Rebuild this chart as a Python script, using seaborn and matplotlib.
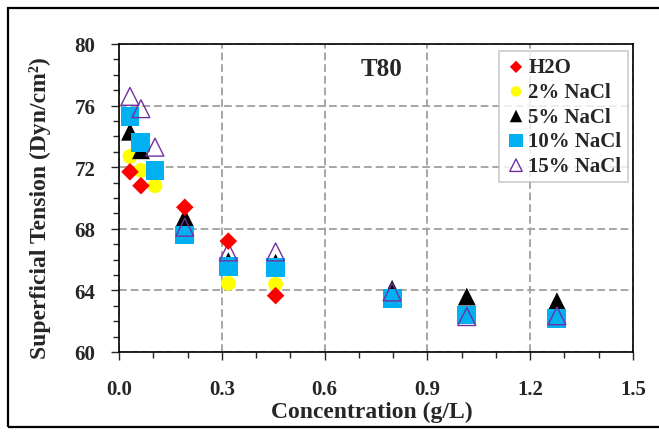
import matplotlib
matplotlib.use("Agg")
import matplotlib.pyplot as plt
import seaborn as sns
import pandas as pd
from matplotlib.patches import Rectangle
from matplotlib.ticker import MultipleLocator

# ---- data ----
x_h2o = [0.032, 0.064, 0.192, 0.319, 0.457]
y_h2o = [71.7, 70.8, 69.4, 67.2, 63.66]

x_2 = [0.032, 0.064, 0.105, 0.192, 0.319, 0.457]
y_2 = [72.7, 71.8, 70.8, 67.8, 64.46, 64.4]

x_5 = [0.032, 0.064, 0.192, 0.319, 0.457, 0.797, 1.015, 1.278]
y_5 = [74.3, 73.1, 68.75, 65.9, 65.8, 64.1, 63.6, 63.3]

x_10 = [0.032, 0.064, 0.105, 0.192, 0.319, 0.457, 0.797, 1.015, 1.278]
y_10 = [75.3, 73.6, 71.8, 67.6, 65.55, 65.5, 63.5, 62.4, 62.2]

x_15 = [0.032, 0.064, 0.105, 0.192, 0.319, 0.457, 0.797, 1.015, 1.278]
y_15 = [76.6, 75.8, 73.3, 68.1, 66.5, 66.5, 63.9, 62.3, 62.35]

labels = ["H2O", "2% NaCl", "5% NaCl", "10% NaCl", "15% NaCl"]
x_ticks = [0.0, 0.3, 0.6, 0.9, 1.2, 1.5]
y_ticks = [60, 64, 68, 72, 76, 80]

sns.set_theme(style="white")
plt.rcParams['font.family'] = ['Liberation Serif', 'DejaVu Serif']
plt.rcParams['font.weight'] = 'bold'

fig = plt.figure(figsize=(6.59, 4.39), dpi=100)
ax = fig.add_axes([119/659, 1-353/439, 514/659, 308/439])

series = [
    (x_2, y_2, labels[1], dict(marker='o', s=115, color='#FFFF00', edgecolor='none'), 3),
    (x_5, y_5, labels[2], dict(marker='^', s=165, color='black', edgecolor='none'), 4),
    (x_10, y_10, labels[3], dict(marker='s', s=185, color='#00B0F0', edgecolor='none'), 5),
    (x_15, y_15, labels[4], dict(marker='^', s=165, facecolor='none', edgecolor='#7030A0', linewidth=1.0), 6),
    (x_h2o, y_h2o, labels[0], dict(marker='D', s=80, color='#FF0000', edgecolor='none'), 7),
]
for xs, ys, lab, kw, z in series:
    df = pd.DataFrame({"x": xs, "y": ys})
    sns.scatterplot(data=df, x="x", y="y", ax=ax, label=lab, zorder=z, **kw)

ax.set_xlim(0, 1.5)
ax.set_ylim(60, 80)
ax.set_xticks(x_ticks)
ax.set_yticks(y_ticks)
ax.set_xticklabels([f"{t:.1f}" for t in x_ticks])
ax.set_yticklabels([str(t) for t in y_ticks])
ax.xaxis.set_minor_locator(MultipleLocator(0.1))
ax.yaxis.set_minor_locator(MultipleLocator(1))
ax.tick_params(axis='both', which='major', direction='out', length=6, width=1.0,
               labelsize=15, bottom=True, left=True)
ax.tick_params(axis='x', which='major', pad=13.5)
ax.tick_params(axis='y', which='major', pad=11)
ax.tick_params(axis='both', which='minor', direction='out', length=4, width=1.0,
               bottom=True, left=True)
for lab in ax.get_xticklabels() + ax.get_yticklabels():
    lab.set_fontweight('bold')

ax.grid(True, which='major', color='#A6A6A6', linestyle=(0, (4, 2)), linewidth=1.4)
ax.set_axisbelow(True)
for sp in ax.spines.values():
    sp.set_visible(True)
    sp.set_color('black')
    sp.set_linewidth(1.2)

ax.set_xlabel("Concentration (g/L)", fontsize=17, fontweight='bold')
ax.set_ylabel("Superficial Tension (Dyn/cm²)", fontsize=17, fontweight='bold')
ax.xaxis.set_label_coords(0.491, -0.159)
ax.yaxis.set_label_coords(-0.132, 0.471)

ax.text(0.511, 0.922, "T80", transform=ax.transAxes, ha='center', va='center',
        fontsize=18, fontweight='bold')

h, l = ax.get_legend_handles_labels()
order = [l.index(k) for k in labels]
leg = ax.legend([h[i] for i in order], [l[i] for i in order],
                loc='upper right', bbox_to_anchor=(0.99, 0.977),
                prop={'weight': 'bold', 'size': 15}, markerscale=0.7,
                frameon=True, fancybox=False, edgecolor='#BFBFBF',
                handletextpad=0.1, handlelength=1.0, labelspacing=0.22,
                borderpad=0.3, borderaxespad=0.0)
leg.get_frame().set_linewidth(1.2)

fig.add_artist(Rectangle((8/659, 1-428/439), 1.0, (428-9)/439, transform=fig.transFigure,
                         fill=False, edgecolor='black', linewidth=1.6, clip_on=False))

fig.savefig("out.png", dpi=100)
